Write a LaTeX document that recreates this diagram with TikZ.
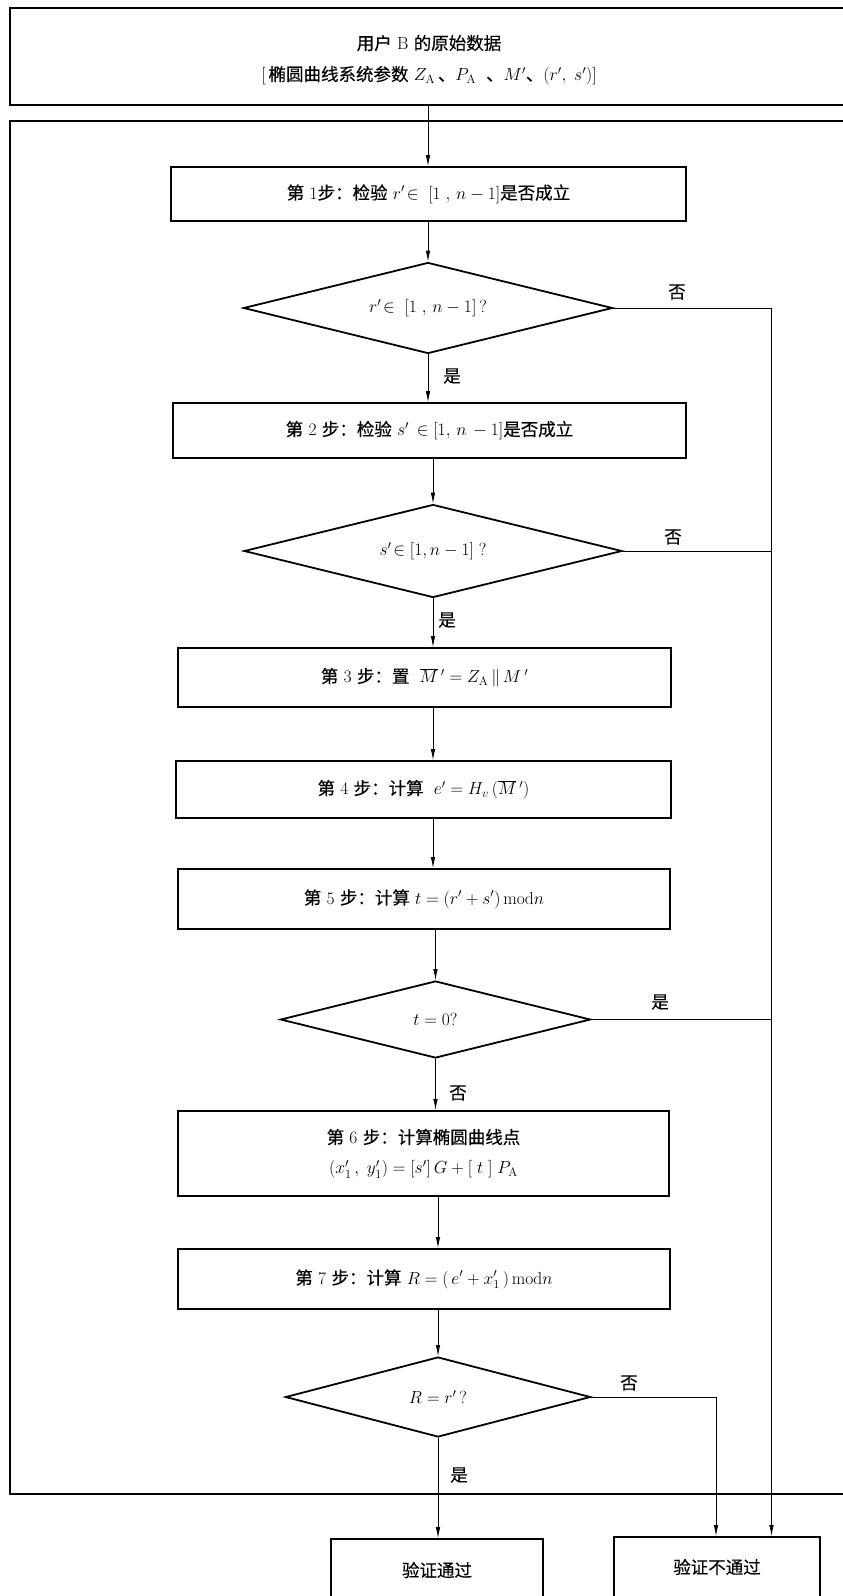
\RequirePackage{fix-cm}
\documentclass[tikz,border=0pt]{standalone}
\usepackage{fontspec}
\newfontfamily\cjk[FakeBold=0.35]{Noto Sans CJK SC}
\newcommand\zh[1]{{\cjk #1}}
\usetikzlibrary{shapes.geometric,arrows.meta}

\begin{document}
\begin{tikzpicture}[x=1pt,y=-1pt,
  font=\fontsize{17.5}{21}\selectfont,
  stepbox/.style={draw,line width=1.8pt,inner sep=0pt,align=center},
  decide/.style={draw,diamond,aspect=4,line width=1.8pt,inner sep=0pt},
  arr/.style={-{Latex[length=11pt,width=4.5pt]},line width=0.8pt},
  link/.style={line width=0.8pt},
  lab/.style={inner sep=0pt}]
\useasboundingbox (0,0) rectangle (843,1596);
\clip (0,0) rectangle (843,1596);
% frames
\node[stepbox,line width=2pt,minimum width=836,minimum height=97] (top) at (428,56.5) {};
\node[align=center,inner sep=0pt] (title) at (429,60)
  {\zh{用户} B \zh{的原始数据}\\[10pt]
   [\,\zh{椭圆曲线系统参数} $Z_{\mathrm{A}}$\,\zh{、}$P_{\mathrm{A}}$\; \zh{、}$M'$\zh{、}$(r',\;s')$]};
\draw[line width=2pt] (10,121) rectangle (852,1494);
% steps and tests
\node[stepbox,minimum width=515,minimum height=54] (s1) at (428.5,194)
  {\zh{第} 1\zh{步：检验} $r'\!\in\;[1\;,\,n-1]$\zh{是否成立}};
\node[decide,minimum width=369,minimum height=91] (d1) at (428,308) {$r'\!\in\;[1\;,\,n-1]$\,?};
\node[stepbox,minimum width=513,minimum height=55] (s2) at (429.5,430.5)
  {\zh{第} 2 \zh{步：检验} $s'\,\in[1,\,n\,-1]$\zh{是否成立}};
\node[decide,minimum width=378,minimum height=93] (d2) at (433,551) {$s'\!\in[1,n-1]$\;?};
\node[stepbox,minimum width=493,minimum height=59] (s3) at (424.5,677.5)
  {\zh{第} 3 \zh{步：置}\; $\overline{M}\,'=Z_{\mathrm{A}}\,\|\,M\,'$};
\node[stepbox,minimum width=495,minimum height=57] (s4) at (423.5,789.5)
  {\zh{第} 4 \zh{步：计算}\; $e'=H_v\,(\overline{M}\,')$};
\node[stepbox,minimum width=492,minimum height=60] (s5) at (424,899)
  {\zh{第} 5 \zh{步：计算} $t=(r'+s')\,\mathrm{mod}n$};
\node[decide,minimum width=310,minimum height=77] (d3) at (435.5,1019.5) {$t=0$?};
\node[stepbox,minimum width=491,minimum height=85] (s6) at (423.5,1153.5)
  {\zh{第} 6 \zh{步：计算椭圆曲线点}\\[9pt]
   $(x_1'\,,\;y_1')=[s']\,G+[\;t\;]\;P_{\mathrm{A}}$};
\node[stepbox,minimum width=492,minimum height=60] (s7) at (424,1279)
  {\zh{第} 7 \zh{步：计算} $R=(\,e'+x_1'\,)\,\mathrm{mod}n$};
\node[decide,minimum width=305,minimum height=80] (d4) at (438,1397) {$R=r'$\,?};
\node[stepbox,minimum width=212,minimum height=62] (pass) at (437,1570) {\zh{验证通过}};
\node[stepbox,minimum width=206,minimum height=60] (fail) at (717,1567) {\zh{验证不通过}};
% columns on the right
\coordinate (colR) at (771.5,0);
\coordinate (colS) at (716,0);
% connectors
\draw[arr] (top.south -| d1.north) -- (s1.north -| d1.north);
\draw[arr] (s1.south -| d1.north) -- (d1.north);
\draw[arr] (d1.south) -- (s2.north -| d1.south);
\draw[arr] (s2.south -| d2.north) -- (d2.north);
\draw[arr] (d2.south) -- (s3.north -| d2.south);
\draw[arr] (s3.south -| d2.south) -- (s4.north -| d2.south);
\draw[arr] (s4.south -| d2.south) -- (s5.north -| d2.south);
\draw[arr] (s5.south -| d3.north) -- (d3.north);
\draw[arr] (d3.south) -- (s6.north -| d3.south);
\draw[arr] (s6.south -| d4.north) -- (s7.north -| d4.north);
\draw[arr] (s7.south -| d4.north) -- (d4.north);
\draw[arr] (d4.south) -- (pass.north -| d4.south);
\draw[arr] (d1.east) -| (colR |- fail.north);
\draw[link] (d2.east) -- (d2.east -| colR);
\draw[link] (d3.east) -- (d3.east -| colR);
\draw[arr] (d4.east) -| (colS |- fail.north);
% labels
\node[lab] (no1) at (677,292) {\zh{否}};
\node[lab] (yes1) at (452,376) {\zh{是}};
\node[lab] (no2) at (673,537) {\zh{否}};
\node[lab] (yes2) at (447,620) {\zh{是}};
\node[lab] (yes3) at (660,1002) {\zh{是}};
\node[lab] (no3) at (458,1093) {\zh{否}};
\node[lab] (no4) at (629,1383) {\zh{否}};
\node[lab] (yes4) at (459,1475) {\zh{是}};
\end{tikzpicture}
\end{document}
